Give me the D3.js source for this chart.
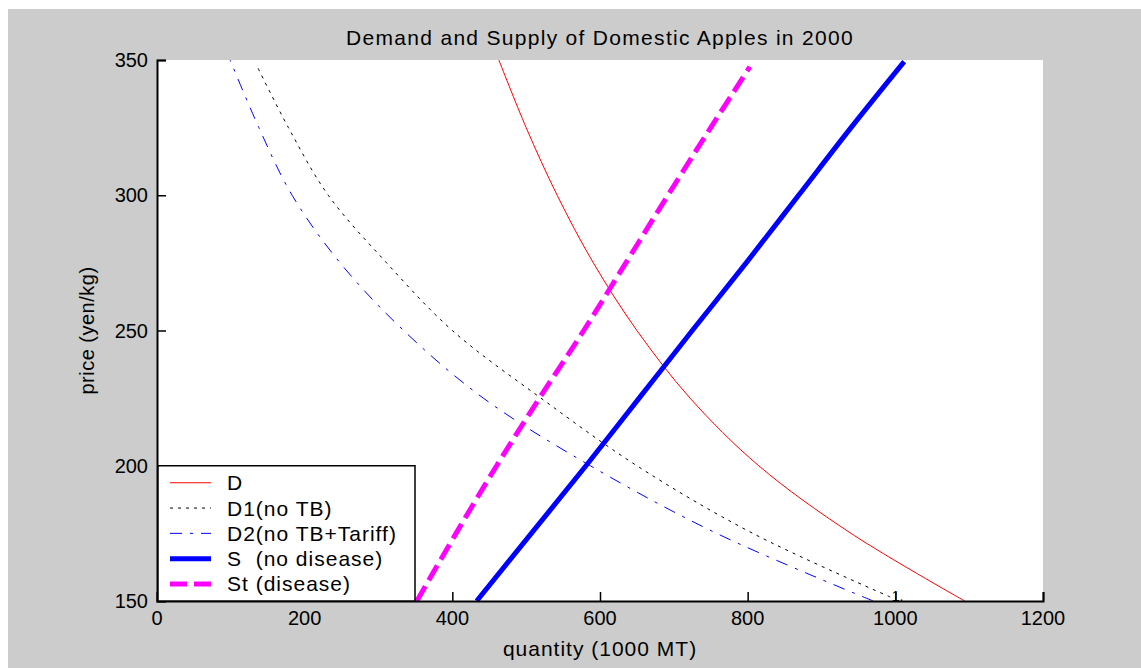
<!DOCTYPE html>
<html>
<head>
<meta charset="utf-8">
<script src="https://cdn.jsdelivr.net/npm/d3@7"></script>
<style>
  body { margin: 0; background: #fff; }
  text { font-family: "Liberation Sans", Arial, sans-serif; fill: #000; }
</style>
</head>
<body>
<div class="canvas"></div>
<script>
// values (price in yen/kg, quantity in 1000 MT)
const priceD  = [150, 175, 200, 225, 250, 275, 300, 325, 350];
const qtyD    = [1094, 940, 815, 722, 650, 591, 542, 500, 463];

const priceD1 = [151.5, 175, 200, 225, 250, 275, 300, 325, 348];
const qtyD1   = [993, 807, 650, 520, 400, 311, 232, 178, 135];

const priceD2 = [150, 175, 200, 225, 250, 275, 300, 325, 350];
const qtyD2   = [970, 758, 587, 442, 334, 248, 183, 138, 99];

const priceS  = [150, 175, 200, 225, 250, 275, 300, 325, 349.4];
const qtyS    = [433, 507, 581, 653, 725, 798, 869, 940, 1012];

const priceSt = [150, 175, 200, 225, 250, 275, 300, 325, 347.5];
const qtySt   = [352, 405, 460, 518, 578, 635, 692, 750, 803];

const xTicks = [0, 200, 400, 600, 800, 1000, 1200];
const yTicks = [150, 200, 250, 300, 350];

const seriesNames = ['D', 'D1(no TB)', 'D2(no TB+Tariff)', 'S  (no disease)', 'St (disease)'];

const margin = {top: 60, right: 98, bottom: 67, left: 157};
const width = 1141, height = 668;
const graphWidth = width - margin.left - margin.right;
const graphHeight = height - margin.top - margin.bottom;

const svg = d3.select('.canvas')
    .append('svg')
    .attr('width', width)
    .attr('height', height);

svg.append('rect')
    .attr('x', 8).attr('y', 9)
    .attr('width', width - 8).attr('height', height - 9)
    .attr('fill', '#cccccc');

const graph = svg.append('g')
    .attr('transform', `translate(${margin.left}, ${margin.top})`);

graph.append('rect')
    .attr('width', graphWidth)
    .attr('height', graphHeight)
    .attr('fill', '#fff');

const x = d3.scaleLinear().domain([0, 1200]).range([0, graphWidth]);
const y = d3.scaleLinear().domain([150, 350]).range([graphHeight, 0]);

const series = [
    {name: seriesNames[0], p: priceD,  q: qtyD,  color: '#ff0000', w: 1, dash: null},
    {name: seriesNames[1], p: priceD1, q: qtyD1, color: '#000000', w: 1, dash: '3,5'},
    {name: seriesNames[2], p: priceD2, q: qtyD2, color: '#0000ff', w: 1, dash: '12,8,3,8'},
    {name: seriesNames[3], p: priceS,  q: qtyS,  color: '#0000ff', w: 5, dash: null},
    {name: seriesNames[4], p: priceSt, q: qtySt, color: '#ff00ff', w: 5, dash: '17,7'}
];

const line = d3.line()
    .x(d => x(d[0]))
    .y(d => y(d[1]))
    .curve(d3.curveCatmullRom);

const plot = graph.append('g');

series.forEach(s => {
    plot.append('path')
        .datum(s.q.map((q, i) => [q, s.p[i]]))
        .attr('fill', 'none')
        .attr('stroke', s.color)
        .attr('stroke-width', s.w)
        .attr('stroke-dasharray', s.dash)
        .attr('d', line);
});

// stray label near the end of D1
graph.append('text')
    .attr('x', x(995)).attr('y', y(150) - 0.5)
    .attr('font-size', 14)
    .text('1.');

// axes (ticks point inward, no box)
const xAxis = d3.axisTop(x).tickValues(xTicks).tickSize(9).tickFormat('');
const yAxis = d3.axisRight(y).tickValues(yTicks).tickSize(9).tickFormat('');

const xAxisGroup = graph.append('g')
    .attr('transform', `translate(0, ${graphHeight})`)
    .call(xAxis);
const yAxisGroup = graph.append('g').call(yAxis);

[xAxisGroup, yAxisGroup].forEach(g => {
    g.select('.domain').attr('stroke', '#000').attr('stroke-width', 2);
    g.selectAll('.tick line').attr('stroke', '#000').attr('stroke-width', 1.5);
});

graph.append('g').selectAll('text')
    .data(xTicks)
    .enter().append('text')
    .attr('x', d => x(d))
    .attr('y', graphHeight + 24)
    .attr('text-anchor', 'middle')
    .attr('font-size', 20)
    .text(d => d);

graph.append('g').selectAll('text')
    .data(yTicks)
    .enter().append('text')
    .attr('x', -9)
    .attr('y', d => y(d) + 7)
    .attr('text-anchor', 'end')
    .attr('font-size', 20)
    .text(d => d);

// legend
const legend = graph.append('g')
    .attr('transform', `translate(1, ${y(200)})`);

legend.append('rect')
    .attr('width', 257).attr('height', graphHeight - y(200))
    .attr('fill', '#fff')
    .attr('stroke', '#000')
    .attr('stroke-width', 1.5);

series.forEach((s, i) => {
    const ly = 17 + i * 25.3;
    legend.append('line')
        .attr('x1', 12).attr('x2', 53)
        .attr('y1', ly).attr('y2', ly)
        .attr('stroke', s.color)
        .attr('stroke-width', s.w)
        .attr('stroke-dasharray', s.dash);
    legend.append('text')
        .attr('x', 69).attr('y', ly + 7.5)
        .attr('font-size', 21)
        .attr('letter-spacing', 1)
        .attr('xml:space', 'preserve')
        .style('white-space', 'pre')
        .text(s.name);
});

// titles
svg.append('text')
    .attr('x', margin.left + graphWidth / 2)
    .attr('y', 45)
    .attr('text-anchor', 'middle')
    .attr('font-size', 21)
    .attr('letter-spacing', 1.3)
    .text('Demand and Supply of Domestic Apples in 2000');

svg.append('text')
    .attr('x', margin.left + graphWidth / 2)
    .attr('y', 656)
    .attr('text-anchor', 'middle')
    .attr('font-size', 21)
    .attr('letter-spacing', 1)
    .text('quantity (1000 MT)');

svg.append('text')
    .attr('transform', `translate(94, ${margin.top + graphHeight / 2}) rotate(-90)`)
    .attr('text-anchor', 'middle')
    .attr('font-size', 20)
    .attr('letter-spacing', 0.5)
    .text('price (yen/kg)');
</script>
</body>
</html>
